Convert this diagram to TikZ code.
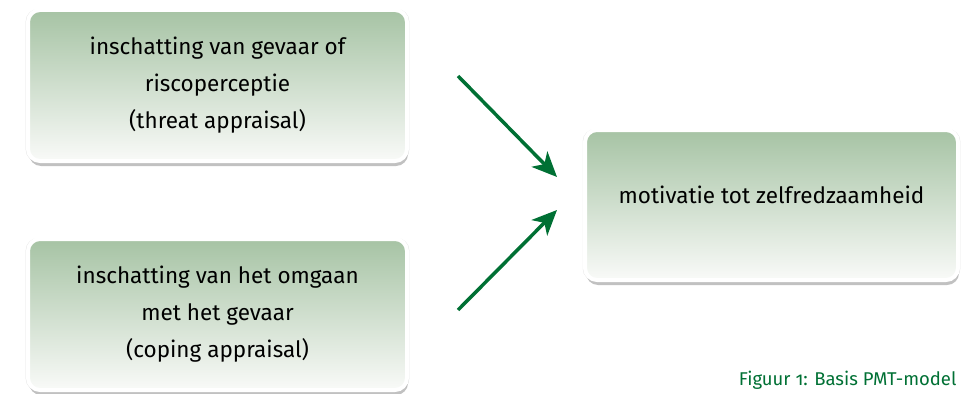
\documentclass[tikz,border=0pt]{standalone}
\usepackage{fontspec}
\setmainfont[Numbers=OldStyle]{Fira Sans}
\usepackage{xcolor}
\usetikzlibrary{shadows,arrows.meta}
\definecolor{pmtgreen}{RGB}{0,112,52}
\definecolor{boxtop}{RGB}{166,195,164}
\definecolor{boxbottom}{RGB}{249,250,248}

\begin{document}
\begin{tikzpicture}[x=1pt,y=-1pt,
            every node/.style = {font=\fontsize{22.5}{37}\selectfont, align=center},
            box/.style = {rectangle, rounded corners=12pt, draw=white, line width=4pt,
                top color=boxtop, bottom color=boxbottom,
                minimum width=379pt, minimum height=151pt, inner sep=0pt,
                drop shadow={shadow xshift=0pt, shadow yshift=0pt, shadow scale=1.012, opacity=0.18, fill=black!60},
                drop shadow={shadow xshift=1pt, shadow yshift=-5pt, opacity=0.35, fill=black!70}},
            link/.style = {draw=pmtgreen, line width=3.5pt,
                -{Stealth[length=25pt, width=22pt, inset=7pt]}}]
            \useasboundingbox (0,0) rectangle (973,393);
            \node[box] (threat) at (217.5,85.5) {inschatting van gevaar of\\ riscoperceptie\\ (threat appraisal)};
            \node[box] (coping) at (217.5,314.5) {inschatting van het omgaan\\ met het gevaar\\ (coping appraisal)};
            \node[box, minimum width=373pt, minimum height=150pt, text depth=21pt] (motivation) at (771.5,205) {motivatie tot zelfredzaamheid};
            % arrows
            \coordinate (s1) at (458,76);
            \coordinate (e1) at (557,177);
            \coordinate (s2) at (458,310);
            \coordinate (e2) at (557,210);
            \draw[link] (s1) -- (e1);
            \draw[link] (s2) -- (e2);
            \node[anchor=base east, text=pmtgreen, font=\fontsize{18.5}{21}\selectfont] (caption) at (960,385) {Figuur 1: Basis PMT-model};
        \end{tikzpicture}
\end{document}
